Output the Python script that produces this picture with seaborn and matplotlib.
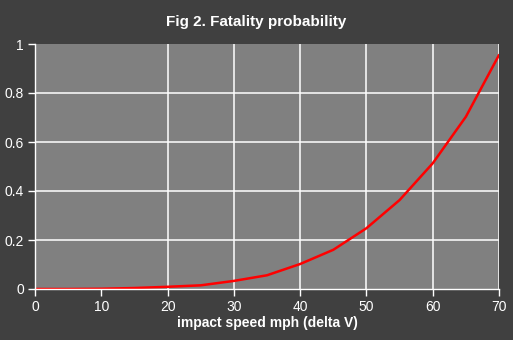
import matplotlib
matplotlib.use("Agg")
import matplotlib.pyplot as plt
import seaborn as sns
import pandas as pd

speed_mph = [0, 5, 10, 15, 20, 25, 30, 35, 40, 45, 50, 55, 60, 65, 70]
fatality_prob = [0.0, 0.0, 0.001, 0.004, 0.009, 0.015, 0.033, 0.056, 0.102,
                 0.16, 0.248, 0.363, 0.513, 0.703, 0.955]
x_ticks = [0, 10, 20, 30, 40, 50, 60, 70]
y_ticks = [0, 0.2, 0.4, 0.6, 0.8, 1]
y_tick_labels = ["0", "0.2", "0.4", "0.6", "0.8", "1"]

df = pd.DataFrame({"speed": speed_mph, "prob": fatality_prob})

sns.set_style("dark")
plt.rcParams["font.family"] = ["Liberation Sans", "DejaVu Sans"]

bg = "#404040"
fig = plt.figure(figsize=(5.13, 3.40), dpi=100, facecolor=bg)
ax = fig.add_axes([35 / 513, 51 / 340, 464 / 513, 245 / 340])
ax.set_facecolor("#808080")

sns.lineplot(data=df, x="speed", y="prob", ax=ax, color="#ff0000", linewidth=1.8)

ax.set_xlim(0, 70)
ax.set_ylim(0, 1)
ax.set_xticks(x_ticks)
ax.set_yticks(y_ticks)
ax.set_yticklabels(y_tick_labels)

ax.grid(True, color="white", linewidth=1.1)
for gl in ax.get_xgridlines():
    if gl.get_xdata()[0] in (0, 70):
        gl.set_visible(False)
for gl in ax.get_ygridlines():
    if gl.get_ydata()[0] in (0, 1):
        gl.set_visible(False)

for side in ("top", "right"):
    ax.spines[side].set_visible(False)
for side in ("left", "bottom"):
    ax.spines[side].set_visible(True)
    ax.spines[side].set_color("white")
    ax.spines[side].set_linewidth(1.0)

ax.tick_params(axis="both", colors="white", labelcolor="white", labelsize=10,
               length=5, width=1, direction="out", left=True, bottom=True, pad=3)

ax.set_xlabel("impact speed mph (delta V)", color="white", fontsize=10,
              fontweight="bold", labelpad=1)
ax.set_ylabel("")
fig.suptitle("Fig 2. Fatality probability", color="white", fontsize=11,
             fontweight="bold", x=0.5, y=0.955)

fig.savefig("out.png", dpi=100, facecolor=bg)
